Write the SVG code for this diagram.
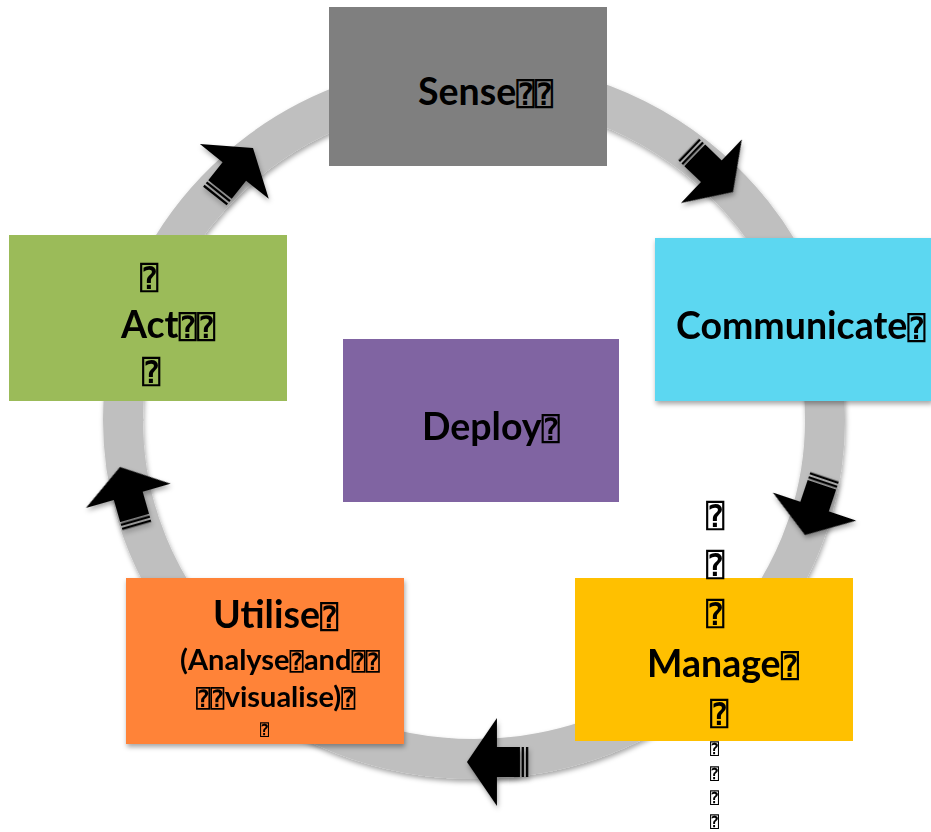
<svg xmlns="http://www.w3.org/2000/svg" width="931" height="832" viewBox="0 0 931 832">
<style>
.lbl{font-family:Lato,"DejaVu Sans Mono",sans-serif;font-weight:bold;font-size:37.5px;fill:#000}
.sub{font-size:29px}
.tf{font-family:"DejaVu Sans Mono",monospace;font-weight:bold;font-size:0.82em}
.tfs{font-family:"DejaVu Sans Mono",monospace;font-weight:bold;font-size:15px;fill:#000}
.tfb{font-family:"DejaVu Sans Mono",monospace;font-weight:bold;font-size:31px;fill:#000}
.ring{fill:none;stroke:#BFBFBF;stroke-width:40}
.arr{fill:#000}
</style>
<defs>
<filter id="sh" x="-10%" y="-10%" width="120%" height="120%">
<feDropShadow dx="1" dy="3" stdDeviation="2.5" flood-color="#000" flood-opacity="0.35"/>
</filter>
<g id="striped">
<path d="M0,0 L-30,-44 L-30,-15 L-53,-15 L-53,15 L-30,15 L-30,44 Z"/>
<rect x="-57" y="-15" width="2.3" height="30"/>
<rect x="-61.3" y="-15" width="2.3" height="30"/>
</g>
</defs>
<rect width="931" height="832" fill="#fff"/>
<g id="ring"><ellipse class="ring" cx="474" cy="420" rx="351" ry="339" filter="url(#sh)"/></g>
<g id="connectors" class="arr" filter="url(#sh)">
<use href="#striped" transform="translate(253,148) rotate(-51.5)"/>
<use href="#striped" transform="translate(733,192) rotate(43.8)"/>
<use href="#striped" transform="translate(805,535) rotate(108.6)"/>
<use href="#striped" transform="translate(467,762) rotate(180)"/>
<use href="#striped" transform="translate(120,467) rotate(-106)"/>
</g>
<g id="sense">
<rect x="329" y="7" width="278" height="159" fill="#7F7F7F"/>
<text class="lbl" x="418" y="105">Sense<tspan class="tf">⍰⍰</tspan></text>
</g>
<g id="communicate">
<rect x="655" y="238" width="277" height="163" fill="#5BD7F1" filter="url(#sh)"/>
<text class="lbl" x="676" y="339">Communicate<tspan class="tf">⍰</tspan></text>
</g>
<g id="manage">
<rect x="575" y="578" width="278" height="163" fill="#FFC000"/>
<text class="tfb" x="706" y="527">⍰</text>
<text class="tfb" x="706" y="576">⍰</text>
<text class="tfb" x="706" y="625">⍰</text>
<text class="lbl" x="647" y="677">Manage<tspan class="tf">⍰</tspan></text>
<text class="tfb" x="710" y="725">⍰</text>
<text class="tfs" x="710" y="754">⍰</text>
<text class="tfs" x="710" y="779">⍰</text>
<text class="tfs" x="710" y="803">⍰</text>
<text class="tfs" x="710" y="827">⍰</text>
</g>
<g id="utilise">
<rect x="126" y="578" width="278" height="166" fill="#FF8338" filter="url(#sh)"/>
<text class="lbl" x="213" y="628">Utilise<tspan class="tf">⍰</tspan></text>
<text class="lbl sub" x="180" y="670">(Analyse<tspan class="tf">⍰</tspan>and<tspan class="tf">⍰⍰</tspan></text>
<text class="lbl sub" x="196" y="707"><tspan class="tf">⍰⍰</tspan>visualise)<tspan class="tf">⍰</tspan></text>
<text class="tfs" x="260" y="735">⍰</text>
</g>
<g id="act">
<rect x="9" y="235" width="278" height="166" fill="#9BBB59"/>
<text class="tfb" x="140" y="289">⍰</text>
<text class="lbl" x="121" y="338">Act<tspan class="tf">⍰⍰</tspan></text>
<text class="tfb" x="142" y="383">⍰</text>
</g>
<g id="deploy">
<rect x="343" y="339" width="276" height="163" fill="#8064A2"/>
<text class="lbl" x="422" y="440">Deploy<tspan class="tf">⍰</tspan></text>
</g>
</svg>
